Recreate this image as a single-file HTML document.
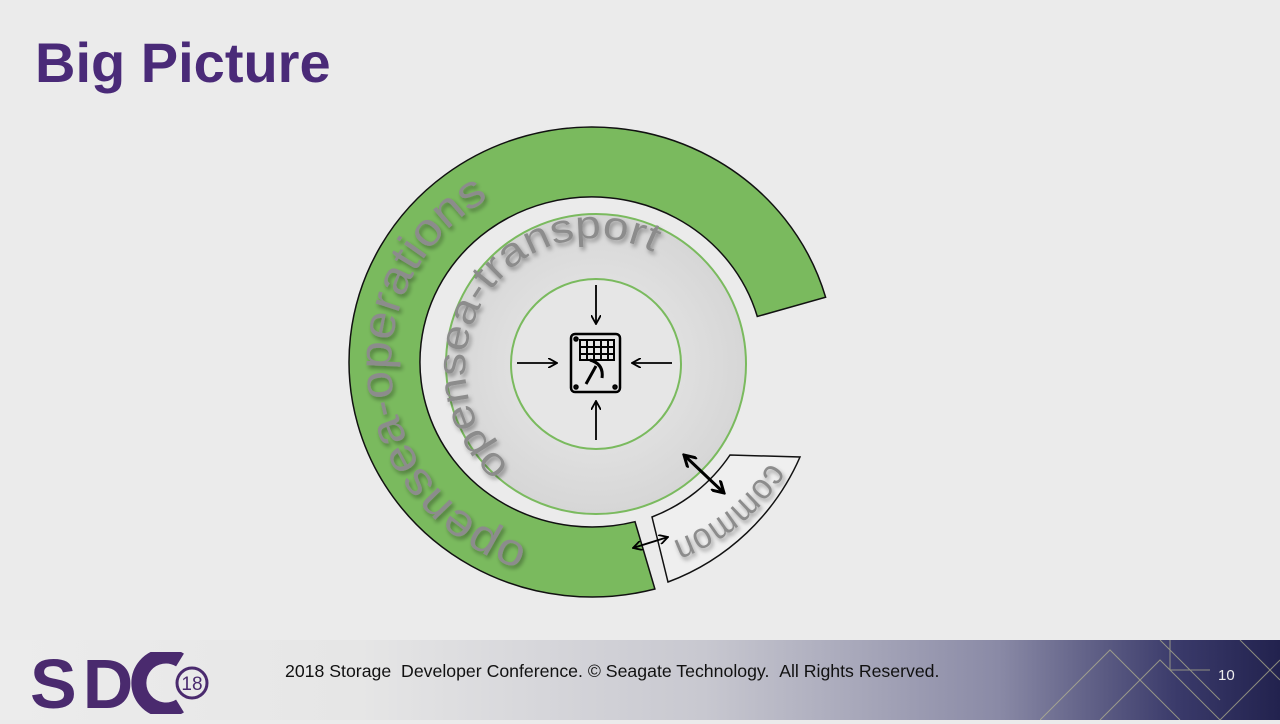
<!DOCTYPE html>
<html><head><style>
body{margin:0;width:1280px;height:720px;background:#ebebeb;overflow:hidden;position:relative;font-family:"Liberation Sans",sans-serif}
.t{position:absolute;left:35px;top:30px;font-size:56px;font-weight:bold;color:#4a2a78}
.f{position:absolute;left:0;top:640px;width:1280px;height:80px;background:linear-gradient(90deg,#ececec 0%,#e6e6e6 28%,#c8c8d0 55%,#8a8aa6 78%,#3a3a6a 92%,#22224e 100%)}
.ft{position:absolute;left:285px;top:661px;font-size:17.7px;color:#111}
.pg{position:absolute;left:1218px;top:667px;font-size:15px;color:#eee}
</style></head><body>
<div class="t">Big Picture</div>
<div class="f"></div>
<svg style="position:absolute;left:1040px;top:640px" width="240" height="80"><g stroke="#b8b890" stroke-width="1" fill="none" opacity=".7"><path d="M0 80 L70 10 L140 80 M60 80 L120 20 L180 80 M120 0 L180 60 M130 0 L130 30 L170 30 M200 0 L240 40 M180 80 L240 20"/></g></svg>
<div style="position:absolute;left:30px;top:644px;font-size:70px;font-weight:bold;color:#4a2a6e;letter-spacing:6px">SD</div>
<svg style="position:absolute;left:128px;top:652px" width="85" height="62"><path d="M52 8 A27 27 0 1 0 52 54" stroke="#4a2a6e" stroke-width="15" fill="none"/><circle cx="64" cy="31" r="15" fill="none" stroke="#4a2a6e" stroke-width="3"/><text x="64" y="38" font-size="19" text-anchor="middle" fill="#4a2a6e" font-family="Liberation Sans">18</text></svg>
<div class="ft">2018 Storage &nbsp;Developer Conference. © Seagate Technology. &nbsp;All Rights Reserved.</div>
<div class="pg">10</div>
<svg style="position:absolute;left:0;top:0" width="1280" height="640">
<defs>
<radialGradient id="g" cx="50%" cy="50%" r="50%"><stop offset="0" stop-color="#ececec"/><stop offset="1" stop-color="#d6d6d6"/></radialGradient>
<filter id="s"><feDropShadow dx="2" dy="3" stdDeviation="2" flood-color="#000" flood-opacity=".35"/></filter>
<path id="p1" d="M528 546 A200 192 0 0 1 506 190"/>
<path id="p2" d="M510 466 A126 126 0 1 1 680 270"/>
<path id="p3" d="M770 462 A192 192 0 0 1 676 540"/>
<marker id="a" markerWidth="10" markerHeight="10" refX="9" refY="5" orient="auto" markerUnits="userSpaceOnUse"><path d="M0 0 L9 5 L0 10" fill="none" stroke="#000" stroke-width="1.8"/></marker>
<marker id="b" markerWidth="14" markerHeight="14" refX="12" refY="7" orient="auto-start-reverse" markerUnits="userSpaceOnUse"><path d="M0 0 L12 7 L0 14" fill="none" stroke="#000" stroke-width="3"/></marker>
<marker id="c" markerWidth="10" markerHeight="10" refX="9" refY="5" orient="auto-start-reverse" markerUnits="userSpaceOnUse"><path d="M0 0 L9 5 L0 10" fill="none" stroke="#000" stroke-width="1.8"/></marker>
</defs>
<path d="M825.6 297.2 A243 235 0 1 0 654.9 589 L635 521.7 A172 165 0 1 1 757.3 316.5 Z" fill="#7aba5e" stroke="#111" stroke-width="1.5"/>
<path d="M652 517 L668 582 A233 233 0 0 0 800 457 L730 455 A166 166 0 0 1 652 517 Z" fill="#efefef" stroke="#111" stroke-width="1.5"/>
<circle cx="596" cy="364" r="150" fill="url(#g)" stroke="#7aba5e" stroke-width="2"/>
<circle cx="596" cy="364" r="85" fill="#e6e6e6" stroke="#7aba5e" stroke-width="2"/>
<g font-family="Liberation Sans" fill="#8c8c8c" filter="url(#s)">
<text font-size="46"><textPath href="#p1" textLength="445" lengthAdjust="spacingAndGlyphs">opensea-operations</textPath></text>
<text font-size="40"><textPath href="#p2" textLength="375" lengthAdjust="spacingAndGlyphs">opensea-transport</textPath></text>
<text font-size="36"><textPath href="#p3" textLength="128" lengthAdjust="spacingAndGlyphs">common</textPath></text>
</g>
<g stroke="#000" stroke-width="1.8" fill="none">
<line x1="596" y1="285" x2="596" y2="324" marker-end="url(#a)"/>
<line x1="596" y1="440" x2="596" y2="401" marker-end="url(#a)"/>
<line x1="517" y1="363" x2="557" y2="363" marker-end="url(#a)"/>
<line x1="672" y1="363" x2="632" y2="363" marker-end="url(#a)"/>
<line x1="684" y1="455" x2="724" y2="493" stroke-width="3" marker-start="url(#b)" marker-end="url(#b)"/>
<line x1="633" y1="548" x2="668" y2="537" marker-start="url(#c)" marker-end="url(#c)"/>
</g>
<g stroke="#000" fill="none" stroke-width="2.5">
<rect x="571" y="334" width="49" height="58" rx="4"/>
<path d="M580 340 h34 v20 h-34 z M587 340 v20 M594 340 v20 M601 340 v20 M608 340 v20 M580 347 h34 M580 354 h34" stroke-width="2"/>
<path d="M590 360 q14 4 12 18 M596 366 l-10 18" stroke-width="3"/>
<circle cx="576" cy="339" r="1.5"/><circle cx="576" cy="387" r="1.5"/><circle cx="615" cy="387" r="1.5"/>
</g>
</svg>
</body></html>
